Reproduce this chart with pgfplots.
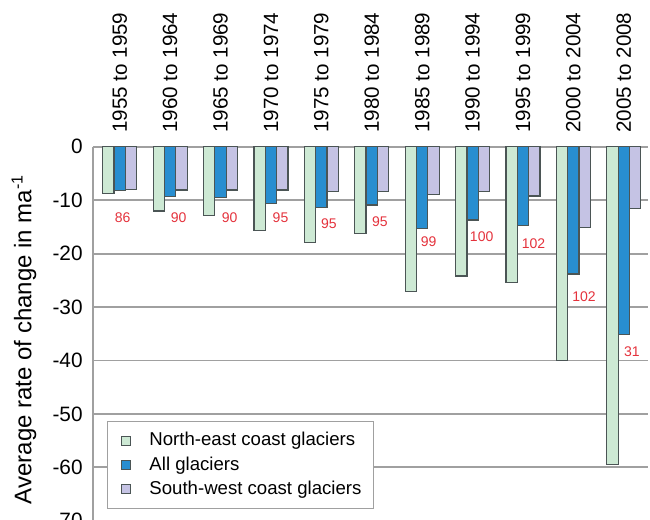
\documentclass[border=0pt]{standalone}
\usepackage{pgfplots}
\pgfplotsset{compat=1.18}
\usepackage{fontspec}
\setmainfont{Liberation Sans}

\definecolor{negreen}{RGB}{205,233,212}
\definecolor{allblue}{RGB}{40,142,208}
\definecolor{swlav}{RGB}{197,195,228}
\definecolor{outl}{RGB}{75,85,85}
\definecolor{gridgr}{RGB}{160,160,160}
\definecolor{numred}{RGB}{228,50,60}

% average rate of change, one row per period
\pgfplotstableread{
x ne all sw
0 -8.7 -8.2 -8.0
1 -12.0 -9.3 -8.1
2 -12.9 -9.5 -8.1
3 -15.6 -10.6 -8.1
4 -17.9 -11.4 -8.3
5 -16.3 -10.9 -8.3
6 -27.1 -15.3 -8.9
7 -24.2 -13.7 -8.4
8 -25.4 -14.8 -9.2
9 -40.0 -23.8 -15.1
10 -59.5 -35.1 -11.6
}\rates

\begin{document}
\begin{tikzpicture}
\begin{axis}[
  name=ax,
  scale only axis,
  width=277.5pt, height=187pt,
  xmin=-0.53, xmax=10.48,
  ymin=-70, ymax=0,
  ybar, bar width=0.225,
  axis x line*=top, axis y line*=left,
  axis line style={draw=gridgr, line width=0.9pt, -},
  major tick length=0pt,
  xtick=data,
  xticklabels={1955 to 1959,1960 to 1964,1965 to 1969,1970 to 1974,1975 to 1979,1980 to 1984,1985 to 1989,1990 to 1994,1995 to 1999,2000 to 2004,2005 to 2008},
  xticklabel pos=upper,
  xticklabel style={rotate=90, anchor=west, inner sep=0pt, font=\fontsize{10.3}{12}\selectfont},
  xticklabel shift=6.8pt,
  ytick={-70,-60,...,0},
  yticklabel style={inner sep=0pt, font=\fontsize{10.4}{12}\selectfont},
  yticklabel shift=5pt,
  /pgf/number format/assume math mode=true,
  ymajorgrids,
  grid style={draw=gridgr, line width=0.9pt},
  ylabel={Average rate of change in ma\textsuperscript{-1}},
  ylabel style={at={([xshift=-34.5pt]axis description cs:0,0.485)}, anchor=center, font=\fontsize{12}{14}\selectfont},
  legend cell align=left,
  legend style={at={(0.025,0.031)}, anchor=south west, draw=gridgr, line width=0.6pt,
    font=\fontsize{9.3}{11}\selectfont, row sep=0pt, inner xsep=4pt, inner ysep=3.5pt},
  legend image code/.code={\draw[#1, line width=0.4pt] (3pt,-2.25pt) rectangle (7.5pt,2.25pt); \path[draw=none, fill=none] (0pt,0pt) -- (15pt,0pt);},
]
\addplot[fill=negreen, draw=outl, line width=0.6pt, bar shift=-0.225] table[x=x, y=ne] {\rates};
\addplot[fill=allblue, draw=outl, line width=0.6pt, bar shift=0] table[x=x, y=all] {\rates};
\addplot[fill=swlav, draw=outl, line width=0.6pt, bar shift=0.225] table[x=x, y=sw] {\rates};
\legend{North-east coast glaciers, All glaciers, South-west coast glaciers}

% number of glaciers in each period
\begin{scope}[every node/.style={text=numred, font=\fontsize{7}{8}\selectfont}]
\node at (axis cs:0.06,-13.3) {86};
\node at (axis cs:1.17,-13.3) {90};
\node at (axis cs:2.18,-13.3) {90};
\node at (axis cs:3.19,-13.3) {95};
\node at (axis cs:4.15,-14.3) {95};
\node at (axis cs:5.16,-14.1) {95};
\node at (axis cs:6.13,-17.8) {99};
\node at (axis cs:7.18,-16.9) {100};
\node at (axis cs:8.21,-18.2) {102};
\node at (axis cs:9.21,-28.0) {102};
\node at (axis cs:10.16,-38.3) {31};
\end{scope}
\end{axis}
\pgfresetboundingbox
\path[use as bounding box] ([xshift=-46.5pt,yshift=73.4pt]ax.north west) rectangle ([xshift=1pt,yshift=0.85pt]ax.south east);
\end{tikzpicture}
\end{document}
